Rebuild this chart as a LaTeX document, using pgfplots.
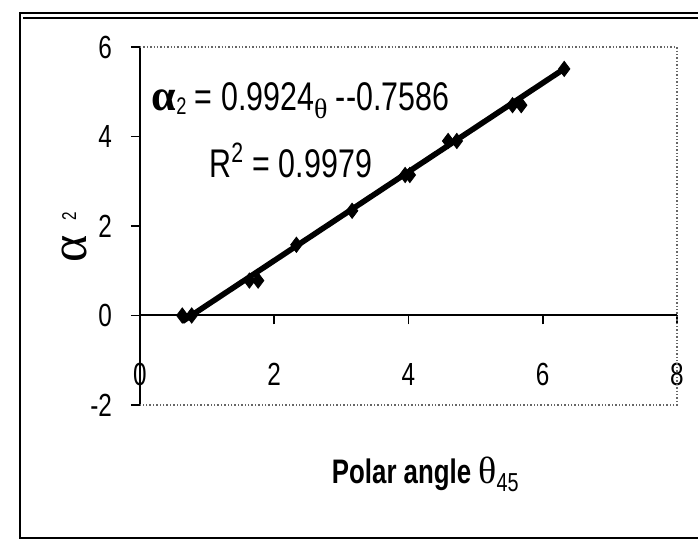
\documentclass[border=0pt]{standalone}
\usepackage{pgfplots}
\pgfplotsset{compat=1.18}
\usepackage{fontspec}
\setmainfont{Liberation Sans}[FakeStretch=0.76]
\newfontfamily\greek{Liberation Serif}
\begin{document}
\begin{tikzpicture}
\useasboundingbox (0,0) rectangle (349pt,275pt);
\fill[white] (0,0) rectangle (349pt,275pt);
\draw[line width=1.3pt] (10pt,6pt) rectangle (362pt,268.5pt);
\draw[line width=0.6pt] (11.5pt,266pt) -- (362pt,266pt);
\begin{axis}[
  at={(70pt,72.5pt)}, anchor=south west,
  scale only axis, width=268.5pt, height=179pt,
  xmin=0, xmax=8, ymin=-2, ymax=6,
  axis x line=middle, axis y line=left,
  axis line style={-, line width=1pt},
  hide obscured x ticks=false,
  xtick={0,2,4,6,8}, ytick={-2,0,2,4,6},
  tick align=outside,
  major tick length=4.5pt,
  tick style={line width=0.8pt, black},
  /pgf/number format/assume math mode=true,
  ticklabel style={font=\fontsize{16}{18}\selectfont},
  xticklabel style={yshift=-16pt},
  yticklabel style={xshift=-6pt},
  clip=false,
  xlabel={\textbf{Polar angle} {\greek\fontsize{19}{21}\selectfont θ}{\fontsize{13}{14}\selectfont\raisebox{-4pt}{45}}},
  xlabel style={at={(axis cs:4.25,-3.55)}, anchor=center, font=\fontsize{17}{19}\selectfont},
  ylabel={{\greek\fontsize{26}{28}\selectfont α}\hspace{7pt}\raisebox{5pt}{\fontsize{10}{11}\selectfont 2}},
  ylabel style={at={(axis cs:-0.98,1.75)}, anchor=center, rotate=0},
]
\draw[densely dotted, black!60, line width=0.7pt] (axis cs:0,6) -- (axis cs:8,6) -- (axis cs:8,-2) -- (axis cs:0,-2);
\addplot[black, line width=2.8pt] coordinates {(0.63,-0.133) (6.32,5.513)};
\addplot[only marks, mark=diamond*, mark size=3.8pt, black] coordinates {
(0.63,0) (0.77,0) (1.63,0.78) (1.76,0.78) (2.33,1.58) (3.16,2.34)
(3.95,3.14) (4.02,3.14) (4.59,3.9) (4.72,3.9) (5.55,4.7) (5.68,4.7) (6.32,5.51)};
\node[anchor=west, font=\fontsize{20}{22}\selectfont, inner sep=0pt] at (axis cs:0.17,4.8)
  {{\greek\bfseries\fontsize{22}{24}\selectfont α}{\fontsize{12}{13}\selectfont\raisebox{-2pt}{2}} = 0.9924{\greek\fontsize{14}{15}\selectfont\raisebox{-4pt}{θ}} -{}-0.7586};
\node[anchor=west, font=\fontsize{20}{22}\selectfont, inner sep=0pt] at (axis cs:1.03,3.46)
  {R\textsuperscript{2} = 0.9979};
\end{axis}
\end{tikzpicture}
\end{document}
